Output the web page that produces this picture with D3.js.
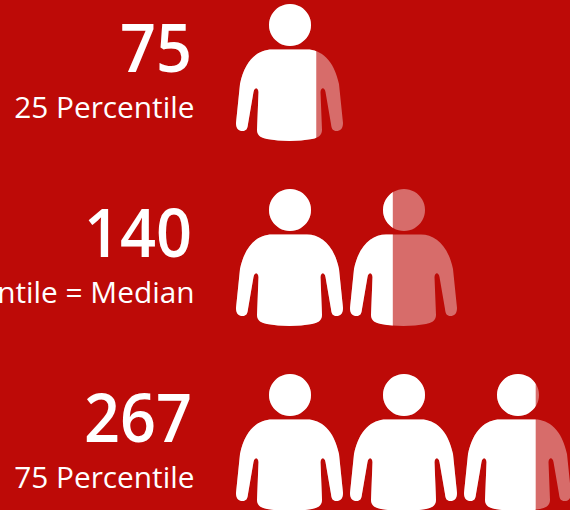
<!DOCTYPE html>
<html>
<head>
<meta charset="utf-8">
<script src="https://cdnjs.cloudflare.com/ajax/libs/d3/7.8.5/d3.min.js"></script>
<style>
html,body{margin:0;padding:0;background:#bd0a07;overflow:hidden;}
text{font-family:"Open Sans","Noto Sans",sans-serif;fill:#fff;text-anchor:end;}
.value{font-size:67px;font-weight:600;}
.label{font-size:29.8px;}
</style>
</head>
<body>
<div id="chart"></div>
<script>
const values=[75,140,267];
const labels=["25 Percentile","50 Percentile = Median","75 Percentile"];
const perIcon=100;

let width=570;
let height=510;
let iconW=107;

// person glyph, drawn in a 107 wide box, head top near y=4
const head="M54 4a21 21 0 1 0 0.01 0Z";
const body="M36 49.5L71 49.5C85 49.5 98 60 103 84L107 123C107 129 104 131 100.500 131C97 131 95.500 129 95 124L89.500 92C88.500 87 85 87 84.500 92L86 130C86 136 81 138 76 139C62 141.500 45 141.500 31 139C26 138 21 136 21 130L22.500 92C22 87 18.500 87 17.500 92L12 124C11.500 129 10 131 6.500 131C3 131 0 129 0 123L4 84C9 60 22 49.5 36 49.5Z";

let chart=d3.select("#chart").append("svg")
.attr("width",width).attr("height",height)
.style("display","block");

let rowScale=d3.scalePoint().domain(d3.range(values.length)).range([0,370]);
let iconScale=d3.scaleLinear().domain([0,perIcon]).range([0,iconW]);
let slotScale=d3.scaleLinear().domain([0,1]).range([236,350]);

let rows=chart.selectAll("g.row")
.data(values)
.enter()
.append("g")
.attr("class","row")
.attr("transform",(d,i)=>"translate(0,"+rowScale(i)+")");

// digits are narrower than the font here, so squeeze a little
rows.append("text").attr("class","value")
.attr("transform","translate(192,72) scale(0.94,1)")
.text(d=>d);

rows.append("text").attr("class","label")
.attr("x",194.5).attr("y",117.5)
.text((d,i)=>labels[i]);

rows.each(function(v,r){
    let n=Math.ceil(v/perIcon);
    let icons=d3.select(this).selectAll("g.icon")
    .data(d3.range(n))
    .enter()
    .append("g")
    .attr("class","icon")
    .attr("transform",i=>"translate("+slotScale(i)+",0)");

    let share=i=>Math.min(perIcon,v-i*perIcon);

    icons.append("clipPath")
    .attr("id",i=>"clip"+r+"-"+i)
    .append("rect")
    .attr("x",0).attr("y",0)
    .attr("width",i=>iconScale(share(i)))
    .attr("height",150);

    // faded full person under the solid part
    icons.append("path")
    .attr("d",head+body)
    .attr("fill","#fff").attr("fill-opacity",0.4);

    icons.append("path")
    .attr("d",head+body)
    .attr("fill","#fff")
    .attr("clip-path",i=>"url(#clip"+r+"-"+i+")");
});
</script>
</body>
</html>
